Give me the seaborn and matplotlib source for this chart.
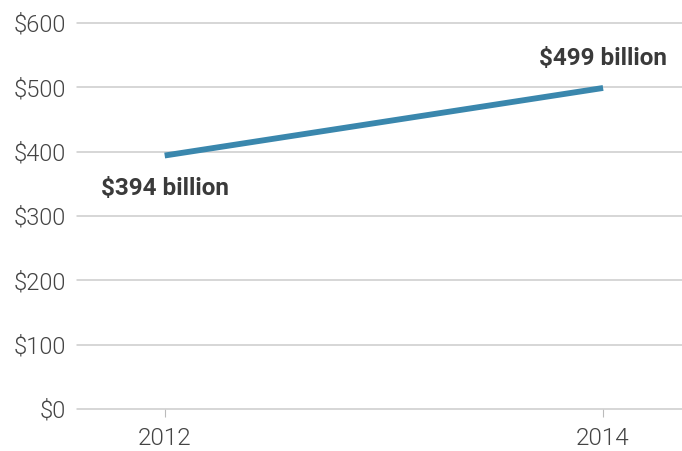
import matplotlib
matplotlib.use('Agg')
import matplotlib.pyplot as plt
import seaborn as sns
import pandas as pd

years = [2012, 2014]
values = [394, 499]
labels = ['$394 billion', '$499 billion']
yticks = [0, 100, 200, 300, 400, 500, 600]

sns.set_theme(style='white')
plt.rcParams['font.family'] = ['Roboto', 'DejaVu Sans']

df = pd.DataFrame({'year': years, 'value': values})

fig = plt.figure(figsize=(6.82, 4.51), dpi=100)
ax = fig.add_axes([77 / 682, 1 - 409 / 451, 1 - 77 / 682, 386 / 451])

sns.lineplot(data=df, x='year', y='value', ax=ax, color='#3a87ad', linewidth=4.2,
             solid_capstyle='butt')

ax.set_xlim(2011.60, 2014.36)
ax.set_ylim(0, 600)
ax.set_yticks(yticks)
ax.set_yticklabels([f'${v}' for v in yticks])
ax.set_xticks(years)
ax.set_xticklabels([str(y) for y in years])
ax.set_xlabel('')
ax.set_ylabel('')

for s in ax.spines.values():
    s.set_visible(False)
ax.grid(axis='y', color='#cccccc', linewidth=1.1)
for gl in ax.get_ygridlines():
    gl.set_clip_on(False)

ax.tick_params(axis='y', length=0, pad=8, labelsize=17, labelcolor='#444444')
ax.tick_params(axis='x', length=6, width=0.8, color='#bbbbbb', pad=7,
               labelsize=17.5, labelcolor='#444444', bottom=True)
for t in ax.get_xticklabels() + ax.get_yticklabels():
    t.set_fontweight(300)

ax.annotate(labels[0], (years[0], values[0]), xytext=(0, -24), textcoords='offset points',
            ha='center', va='center', fontsize=17.5, fontweight='bold', color='#3a3a3a')
ax.annotate(labels[1], (years[1], values[1]), xytext=(0, 21), textcoords='offset points',
            ha='center', va='center', fontsize=17.5, fontweight='bold', color='#3a3a3a')

fig.savefig('out.png', dpi=100)
